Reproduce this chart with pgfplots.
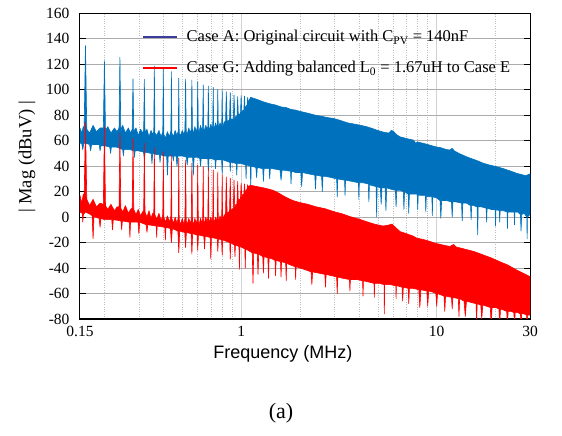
\documentclass[border=0pt]{standalone}
\usepackage{fontspec}
\setmainfont{Liberation Serif}
\newfontfamily\arial{Liberation Sans}
\usepackage{pgfplots}
\pgfplotsset{compat=1.18}
\definecolor{caseA}{HTML}{0072BD}
\definecolor{caseAleg}{HTML}{3C3CA0}
\definecolor{caseG}{HTML}{FF0000}

\begin{document}
\begin{tikzpicture}
\useasboundingbox (-80pt,-117pt) rectangle (482pt,319pt);
\begin{axis}[
    at={(0,0)}, anchor=south west,
    scale only axis, width=450pt, height=305.7pt,
    xmode=log, xmin=0.15, xmax=30, ymin=-80, ymax=160,
    xtick={0.15,1,10,30}, xticklabels={0.15,1,10,30},
    minor xtick={0.2,0.3,0.4,0.5,0.6,0.7,0.8,0.9,2,3,4,5,6,7,8,9,20},
    ytick={-80,-60,...,160},
    yticklabels={-80,-60,-40,-20,0,20,40,60,80,100,120,140,160},
    xticklabel style={font=\fontsize{15.5}{18}\selectfont, yshift=-4pt},
    yticklabel style={font=\fontsize{15.5}{18}\selectfont, xshift=-7pt},
    xtick style={draw=none}, minor tick length=0pt, major tick length=6pt,
    ytick style={black, line width=0.6pt},
    grid=both,
    major x grid style={gray!35, line width=1pt},
    major y grid style={gray!65, line width=0.8pt},
    minor x grid style={gray!50, dotted, line width=0.6pt},
    axis line style={line width=1pt},
    xlabel={\arial Frequency (MHz)},
    xlabel style={at={(axis description cs:0.451,0)}, anchor=base, yshift=-39pt,
        font=\fontsize{18}{21}\selectfont},
    ylabel={| Mag (dBuV) |},
    ylabel style={at={(axis description cs:-0.118,0.53)}, anchor=center,
        font=\fontsize{18.5}{21}\selectfont},
    legend style={at={(axis description cs:0.13,0.958)}, anchor=north west,
        draw=none, fill=none, font=\fontsize{16.5}{19}\selectfont, row sep=14pt},
    legend cell align=left,
]
% Case A: upper edge left to right, then lower edge right to left
\addplot[forget plot, fill=caseA, draw=caseA, line width=0.6pt, line join=round] coordinates {
 (0.15,70) (0.153,66) (0.156,71)
 (0.1575,70) (0.16,134.6) (0.1625,69)
 (0.168,66) (0.175,72) (0.182,67) (0.19,70)
 (0.1975,70) (0.2,122.8) (0.2025,68)
 (0.208,71) (0.216,66) (0.225,70) (0.232,67)
 (0.2375,70) (0.24,125.5) (0.2425,68)
 (0.248,72) (0.256,66) (0.265,70) (0.272,66)
 (0.2775,69) (0.28,108.4) (0.2825,67)
 (0.29,70) (0.298,64) (0.306,69) (0.313,66)
 (0.3175,68) (0.32,108.2) (0.3225,66)
 (0.33,69) (0.338,63) (0.346,68) (0.353,65)
 (0.3575,67) (0.36,118.6) (0.3625,66)
 (0.37,64) (0.38,68) (0.39,63)
 (0.3975,67) (0.40,116.8) (0.4025,65)
 (0.41,62) (0.42,67) (0.43,63)
 (0.4375,68) (0.44,114.2) (0.4425,66)
 (0.45,63) (0.46,68) (0.47,64)
 (0.4775,68) (0.48,109) (0.4825,66)
 (0.49,64) (0.5,68) (0.51,65)
 (0.516,68) (0.52,108.2) (0.524,67)
 (0.53,65) (0.54,70) (0.55,66)
 (0.556,69) (0.56,107.6) (0.564,67)
 (0.57,66) (0.58,71) (0.59,67)
 (0.596,70) (0.60,106.3) (0.604,68)
 (0.61,67) (0.62,72) (0.63,68)
 (0.636,71) (0.64,103.7) (0.644,69)
 (0.65,68) (0.66,72) (0.67,69)
 (0.676,71) (0.68,102.9) (0.684,70)
 (0.69,69) (0.70,73) (0.71,70)
 (0.716,72) (0.72,101.9) (0.724,71)
 (0.73,70) (0.74,74) (0.75,71)
 (0.756,72) (0.76,100.3) (0.764,72)
 (0.77,71) (0.78,74) (0.79,72)
 (0.796,73) (0.80,99.8) (0.804,72)
 (0.81,72) (0.82,75) (0.83,73)
 (0.832,74) (0.84,98.5) (0.848,74)
 (0.86,76) (0.872,76) (0.88,97.7) (0.888,75)
 (0.9,77) (0.912,77) (0.92,95.9) (0.928,77)
 (0.94,79) (0.952,78) (0.96,94.6) (0.968,79)
 (0.98,81) (0.992,80) (1.0,95.5) (1.008,81)
 (1.02,84) (1.032,83) (1.04,95) (1.048,84)
 (1.06,87) (1.072,88) (1.08,94) (1.088,89)
 (1.1,92) (1.12,94)
 (1.2,92.5) (1.3,90.5) (1.4,89) (1.5,88) (1.6,86.5) (1.7,86) (1.8,84.5) (1.9,84)
 (2.0,83) (2.2,81.5) (2.4,80) (2.6,79) (2.8,78) (2.96,77.5) (3.2,76) (3.5,74)
 (3.8,73) (4.1,72) (4.38,71) (4.7,69.5) (5.0,68) (5.4,66.5) (5.7,66) (5.85,68)
 (6.0,67.5) (6.2,65) (6.49,63) (6.9,62) (7.3,61) (7.6,60.5) (7.8,58) (8.0,59)
 (8.5,58) (9.0,57) (9.8,55.3) (10.5,54.5) (11.2,53) (11.7,52.7) (12.0,54) (12.3,52)
 (13,50) (14.2,47.4) (15,46) (16,44.5) (17.3,42.3) (18.5,41) (20.2,39.6) (22,38)
 (24,36) (25.6,34.4) (27,33.5) (28.5,32.5) (30,33.9)
 (30,2) (29.1,0) (29,-17) (28.9,0) (28,3) (27.2,2) (27,-11) (26.8,2) (26,4)
 (25.1,4) (25,-6) (24.9,4) (24,4) (23.1,4) (23,-9) (22.9,4) (22,5) (21.1,5)
 (21,-4) (20.9,5) (20.1,6) (20,-7) (19.9,6) (19,6) (18.1,7) (18,-4) (17.9,7)
 (17,8) (16.3,8) (16.2,-14) (16.1,8) (15.5,9) (15.1,9) (15,-2) (14.9,9) (14.2,11)
 (13.6,11) (13.5,-3) (13.4,11) (12.5,12) (12.1,12) (12,0) (11.9,12) (11.2,13)
 (10.6,13) (10.5,-1) (10.4,13) (10,15) (9.55,16) (9.5,1) (9.45,16) (9,16)
 (8.85,17) (8.8,4) (8.75,17) (8.2,17) (8.05,18) (8,6) (7.95,18) (7.5,18)
 (7.25,18) (7.2,3) (7.15,18) (6.85,20) (6.8,6) (6.75,20) (6.5,21) (6.25,21)
 (6.2,8) (6.15,21) (5.8,22) (5.55,23) (5.5,5) (5.45,23) (5.25,23) (5.2,10)
 (5.15,23) (4.96,24) (4.93,0) (4.9,24) (4.6,25) (4.53,26) (4.5,12) (4.47,26)
 (4.2,27) (4.02,27) (4,14) (3.98,27) (3.7,28) (3.42,29) (3.4,17) (3.38,29)
 (3.12,30) (3.1,16) (3.08,30) (2.9,31) (2.7,32) (2.62,32) (2.6,20) (2.58,32)
 (2.42,33) (2.4,22) (2.38,33) (2.2,34)
 (2.06,35) (2.04,24) (2.02,35) (1.9,35) (1.81,36) (1.8,26) (1.79,36) (1.62,37)
 (1.6,29) (1.58,37) (1.45,38) (1.41,38) (1.4,30) (1.39,38) (1.31,38) (1.3,28)
 (1.29,38) (1.21,39) (1.2,31) (1.19,39) (1.125,40) (1.12,19) (1.115,40) (1.065,41)
 (1.06,30) (1.055,41) (1.0,42) (0.955,42) (0.95,33) (0.945,42) (0.9,43) (0.885,43)
 (0.88,36) (0.875,43) (0.84,44) (0.805,45) (0.8,34) (0.795,45) (0.745,45) (0.74,38)
 (0.735,45) (0.7,46) (0.685,46) (0.68,36) (0.675,46) (0.625,46) (0.62,40)
 (0.615,46) (0.6,47) (0.575,47) (0.57,33) (0.565,47) (0.535,47) (0.53,41)
 (0.525,47) (0.5,48) (0.475,48) (0.47,40) (0.465,48) (0.453,48) (0.45,44)
 (0.447,48) (0.424,48) (0.42,33) (0.416,48) (0.4,48) (0.388,49) (0.385,43)
 (0.382,49) (0.37,49) (0.353,50) (0.35,42) (0.347,50) (0.323,51) (0.32,46)
 (0.317,51) (0.3,52) (0.287,52) (0.285,47) (0.283,52) (0.27,53) (0.252,53)
 (0.25,48) (0.248,53) (0.23,55) (0.217,55) (0.215,50) (0.213,55) (0.2,56)
 (0.192,56) (0.19,52) (0.188,57) (0.18,57) (0.172,57) (0.17,52) (0.168,57)
 (0.16,58) (0.157,58) (0.155,53) (0.153,58) (0.15,58)
};
% Case G
\addplot[forget plot, fill=caseG, draw=caseG, line width=0.6pt, line join=round] coordinates {
 (0.15,17) (0.153,11) (0.156,18)
 (0.1575,15) (0.16,74.1) (0.1625,14)
 (0.168,9) (0.175,14) (0.182,8) (0.19,11)
 (0.1975,10) (0.2,71) (0.2025,9)
 (0.208,6) (0.216,10) (0.225,5) (0.232,8)
 (0.2375,8) (0.24,65.8) (0.2425,7)
 (0.248,4) (0.256,9) (0.265,3) (0.272,6)
 (0.2775,7) (0.28,61.9) (0.2825,6)
 (0.29,2) (0.298,6) (0.306,1) (0.313,4)
 (0.3175,5) (0.32,58) (0.3225,4)
 (0.33,0) (0.338,5) (0.346,-1) (0.353,3)
 (0.3575,3) (0.36,54.5) (0.3625,2)
 (0.37,-2) (0.38,3) (0.39,-3)
 (0.3975,2) (0.40,51.4) (0.4025,0)
 (0.41,-4) (0.42,1) (0.43,-4)
 (0.4375,1) (0.44,48.8) (0.4425,-1)
 (0.45,-5) (0.46,0) (0.47,-5)
 (0.4775,0) (0.48,46.2) (0.4825,-2)
 (0.49,-6) (0.5,-1) (0.51,-6)
 (0.516,-1) (0.52,44.9) (0.524,-3)
 (0.53,-6) (0.54,-1) (0.55,-5)
 (0.556,-2) (0.56,42.3) (0.564,-3)
 (0.57,-6) (0.58,-1) (0.59,-5)
 (0.596,-2) (0.60,41) (0.604,-3)
 (0.61,-6) (0.62,-1) (0.63,-5)
 (0.636,-1) (0.64,39.6) (0.644,-3)
 (0.65,-5) (0.66,0) (0.67,-4)
 (0.676,0) (0.68,38.5) (0.684,-2)
 (0.69,-4) (0.70,0) (0.71,-4)
 (0.716,0) (0.72,37) (0.724,-2)
 (0.73,-4) (0.74,0) (0.75,-3)
 (0.756,0) (0.76,35.5) (0.764,-1)
 (0.77,-3) (0.78,1) (0.79,-2)
 (0.796,1) (0.80,33.5) (0.804,0)
 (0.81,-1) (0.82,2) (0.83,0)
 (0.832,2) (0.84,31.5) (0.848,2)
 (0.86,4) (0.872,4) (0.88,30.5) (0.888,4)
 (0.9,6) (0.912,7) (0.92,29) (0.928,7)
 (0.94,10) (0.952,10) (0.96,28) (0.968,11)
 (0.98,14) (0.992,14) (1.0,26.6) (1.008,15)
 (1.02,18) (1.032,18) (1.04,26) (1.048,19)
 (1.06,21) (1.072,22) (1.08,25.5) (1.088,23)
 (1.1,24.5) (1.12,25)
 (1.2,24) (1.3,23) (1.46,21) (1.55,19) (1.65,16.5) (1.75,14.5) (1.84,13) (2.0,11.4)
 (2.2,10) (2.4,8.2) (2.7,6.5) (2.96,4.4) (3.3,2.5) (3.6,0.4) (4.0,-1.5) (4.38,-3.6)
 (4.8,-5.5) (5.3,-7) (5.6,-6.5) (5.9,-5.5) (6.1,-7.5) (6.5,-11.4) (7.0,-13) (7.6,-15)
 (7.9,-16.5) (8.5,-17.5) (9.2,-19) (9.8,-20.5) (10.5,-21.5) (11.2,-22.5) (11.7,-23)
 (12.2,-21.5) (12.6,-23.5) (13.4,-24.5) (14.2,-25.5) (15.5,-27) (17.3,-29.7) (19,-32)
 (21,-35) (23,-37.5) (25.6,-41.5) (28,-44.5) (30,-46.7)
 (30,-77) (29.2,-77) (29,-85) (28.8,-77) (28,-76) (27.2,-76) (27,-85) (26.8,-76)
 (26,-75) (25.2,-75) (25,-85) (24.8,-75) (24,-74) (23.2,-74) (23,-85) (22.8,-74)
 (22,-73) (21.2,-72) (21,-84) (20.8,-72) (20,-71) (19.2,-71) (19,-85) (18.8,-71)
 (18,-70) (17.2,-69) (17,-80) (16.8,-69) (16.1,-68) (16,-85) (15.9,-68) (15,-67)
 (14.2,-66) (14,-78) (13.8,-66) (13.1,-64) (13,-78) (12.9,-64) (12.1,-63) (12,-72)
 (11.9,-63) (11.1,-62) (11,-74) (10.9,-62) (10.1,-60) (10,-70) (9.9,-60) (9.6,-59)
 (9.1,-58) (9,-70) (8.9,-58) (8.3,-57) (8.2,-71) (8.1,-57) (7.6,-56) (7.25,-56)
 (7.2,-68) (7.15,-56) (6.75,-55) (6.7,-66) (6.65,-55) (6.3,-54) (6.22,-54) (6.2,-64)
 (6.18,-54) (5.8,-53) (5.42,-53) (5.4,-76) (5.38,-53) (5.1,-52) (4.82,-52) (4.8,-63)
 (4.78,-52) (4.5,-51) (4.22,-50) (4.2,-62) (4.18,-50) (3.9,-49) (3.62,-49) (3.6,-58)
 (3.58,-49) (3.3,-48) (3.12,-47) (3.1,-60) (3.08,-47) (2.9,-46) (2.72,-45) (2.7,-55)
 (2.68,-45) (2.5,-44) (2.32,-43) (2.3,-53) (2.28,-43) (2.1,-41)
 (2.0,-40) (1.91,-39) (1.9,-49) (1.89,-39) (1.75,-37) (1.71,-36) (1.7,-50)
 (1.69,-36) (1.61,-35) (1.6,-47) (1.59,-35) (1.51,-34) (1.5,-46) (1.49,-34)
 (1.45,-33) (1.39,-32) (1.38,-48) (1.37,-32) (1.31,-31) (1.3,-44) (1.29,-31)
 (1.23,-29) (1.22,-45) (1.21,-29) (1.16,-28) (1.15,-52) (1.14,-28) (1.055,-25)
 (1.05,-40) (1.045,-25) (0.985,-23) (0.98,-41) (0.975,-23) (0.935,-22) (0.93,-31)
 (0.925,-22) (0.885,-20) (0.88,-33) (0.875,-20) (0.84,-19) (0.805,-18) (0.8,-30)
 (0.795,-18) (0.765,-17) (0.76,-27) (0.755,-17) (0.705,-16) (0.7,-33) (0.695,-16)
 (0.655,-15) (0.65,-25) (0.645,-15) (0.605,-14) (0.6,-26) (0.595,-14) (0.565,-13)
 (0.56,-29) (0.555,-13) (0.525,-12) (0.52,-24) (0.515,-12) (0.485,-11) (0.48,-28)
 (0.475,-11) (0.445,-9) (0.44,-20) (0.435,-9) (0.413,-8) (0.41,-18) (0.407,-8)
 (0.372,-7) (0.37,-16) (0.368,-7) (0.333,-6) (0.33,-12) (0.327,-6) (0.303,-4)
 (0.3,-13) (0.297,-4) (0.272,-4) (0.27,-16) (0.268,-4) (0.247,-3) (0.245,-10)
 (0.243,-3) (0.222,-2) (0.22,-10) (0.218,-2) (0.2,-2) (0.192,-1) (0.19,-8)
 (0.188,-1) (0.18,0) (0.177,1) (0.175,-17) (0.173,1) (0.17,2) (0.16,4) (0.156,2)
 (0.155,-4) (0.154,3) (0.15,4)
};
\addlegendimage{legend image code/.code={
    \draw[caseAleg, line width=1.6pt] (0pt,0pt) -- (34pt,0pt);
    \path (42pt,0pt);}}
\addlegendentry{Case A: Original circuit with C\textsubscript{PV} = 140nF}
\addlegendimage{legend image code/.code={
    \draw[caseG, line width=1.6pt] (0pt,0pt) -- (34pt,0pt);
    \path (42pt,0pt);}}
\addlegendentry{Case G: Adding balanced L\textsubscript{0} = 1.67uH to Case E}
\end{axis}
\node[font=\fontsize{22}{26}\selectfont] at (201pt,-94pt) {(a)};
\end{tikzpicture}
\end{document}
